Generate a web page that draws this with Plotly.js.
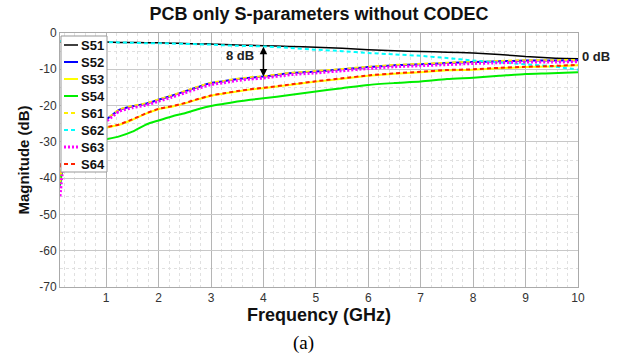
<!DOCTYPE html>
<html><head><meta charset="utf-8">
<script src="https://cdn.plot.ly/plotly-3.0.1.min.js"></script>
<style>html,body{margin:0;padding:0;background:#fff}#c{width:621px;height:358px}</style>
</head><body><div id="c"></div>
<script>
const freq = [0.12, 0.16, 0.2, 0.3, 0.5, 0.75, 1.0, 1.25, 1.5, 1.75, 2.0, 2.25, 2.5, 2.75, 3.0, 3.25, 3.5, 3.75, 4.0, 4.5, 5.0, 5.5, 6.0, 6.5, 7.0, 7.5, 8.0, 8.5, 9.0, 9.5, 10.0];
const S51 = [-2.4, -2.4, -2.4, -2.4, -2.5, -2.5, -2.5, -2.6, -2.6, -2.7, -2.7, -2.8, -2.9, -3.0, -3.0, -3.2, -3.3, -3.4, -3.5, -3.7, -3.9, -4.2, -4.6, -4.9, -5.1, -5.3, -5.5, -5.9, -6.5, -6.9, -7.1];
const S52 = [-42, -37, -33, -29, -26.5, -25, -23.8, -21.2, -20.2, -19.5, -18.4, -17.3, -16.1, -14.9, -13.8, -13.3, -12.7, -12.3, -12.0, -11.1, -10.6, -10.0, -9.4, -8.9, -8.6, -8.3, -8.0, -7.8, -7.6, -7.6, -7.5];
const S53 = [-41, -37, -34, -31, -29, -27.5, -26.1, -25.3, -23.9, -22.3, -21.0, -20.3, -19.4, -18.3, -17.3, -16.7, -16.1, -15.6, -15.2, -14.3, -13.4, -12.6, -11.8, -11.2, -10.8, -10.3, -10.1, -9.7, -9.4, -9.2, -8.9];
const S54 = [-42, -38, -35, -33, -31, -30, -29.3, -28.5, -27.2, -25.3, -24.1, -23.0, -22.1, -21.0, -20.1, -19.5, -18.9, -18.4, -18.0, -17.1, -16.1, -15.2, -14.3, -13.8, -13.4, -12.7, -12.3, -11.8, -11.3, -11.1, -10.8];
const S61 = [-41, -36.5, -33, -29, -26.4, -24.9, -23.7, -21.1, -20.1, -19.4, -18.3, -17.2, -16.0, -14.8, -13.7, -13.2, -12.6, -12.2, -11.9, -11.0, -10.5, -9.9, -9.3, -8.8, -8.5, -8.2, -7.9, -7.7, -7.5, -7.5, -7.4];
const S62 = [-2.2, -2.3, -2.4, -2.4, -2.5, -2.5, -2.5, -2.6, -2.7, -2.8, -2.8, -2.9, -3.0, -3.1, -3.2, -3.4, -3.5, -3.6, -3.7, -4.1, -4.6, -5.0, -5.5, -5.9, -6.3, -6.9, -7.6, -8.1, -8.6, -9.2, -10.1];
const S63 = [-45, -39, -34, -30, -27, -25.5, -24.3, -21.6, -20.6, -19.9, -18.8, -17.7, -16.5, -15.3, -14.2, -13.7, -13.1, -12.7, -12.4, -11.5, -11.0, -10.4, -9.8, -9.3, -9.0, -8.7, -8.4, -8.2, -8.0, -8.0, -7.9];
const S64 = [-37, -35, -32, -30, -28, -27, -26.0, -25.2, -23.8, -22.2, -20.9, -20.2, -19.3, -18.2, -17.2, -16.6, -16.0, -15.5, -15.1, -14.2, -13.3, -12.5, -11.7, -11.1, -10.7, -10.2, -10.0, -9.6, -9.3, -9.1, -8.8];
const xTicks = [1, 2, 3, 4, 5, 6, 7, 8, 9, 10];
const yTicks = [0, -10, -20, -30, -40, -50, -60, -70];
const names = ['S51', 'S52', 'S53', 'S54', 'S61', 'S62', 'S63', 'S64'];

const styles = [
  {color: '#000000', dash: 'solid', width: 1.5},
  {color: '#0000ff', dash: 'solid', width: 2},
  {color: '#ffff00', dash: 'solid', width: 2},
  {color: '#00ee00', dash: 'solid', width: 2},
  {color: '#ffee00', dash: '4px,3px', width: 2},
  {color: '#00ffff', dash: '4px,3px', width: 2},
  {color: '#ff00ff', dash: '2px,2px', width: 3},
  {color: '#ff2200', dash: '4px,3px', width: 2}
];
const values = [S51, S52, S53, S54, S61, S62, S63, S64];
const traces = values.map((v, i) => ({
  x: freq, y: v, name: names[i], type: 'scatter', mode: 'lines', showlegend: false,
  line: {color: styles[i].color, dash: styles[i].dash, width: styles[i].width, shape: 'spline', smoothing: 0.6}
}));

// legend drawn in paper coordinates (plot area: 60..578 px wide, 33..287 px tall)
const PL = 60, PW = 518, PB = 287, PH = 254;
const px = p => (p - PL) / PW;
const py = p => (PB - p) / PH;
const shapes = [{type: 'rect', xref: 'paper', yref: 'paper', x0: px(61), x1: px(107), y0: py(172), y1: py(36),
  fillcolor: '#fff', line: {color: '#999', width: 1}, layer: 'above'}];
const legendAnn = [];
names.forEach((n, i) => {
  const yy = 45 + 17 * i;
  shapes.push({type: 'line', xref: 'paper', yref: 'paper', x0: px(64), x1: px(78), y0: py(yy), y1: py(yy),
    line: {color: styles[i].color, dash: styles[i].dash, width: styles[i].width}, layer: 'above'});
  legendAnn.push({x: px(79), y: py(yy), xref: 'paper', yref: 'paper', xanchor: 'left', yanchor: 'middle',
    text: n, showarrow: false, font: {size: 13, weight: 'bold', color: '#111'}});
});

const layout = {
  width: 621, height: 358,
  margin: {l: 60, r: 43, t: 33, b: 71},
  paper_bgcolor: '#fff', plot_bgcolor: '#fff',
  font: {family: 'Liberation Sans, Arial, sans-serif', color: '#222'},
  title: {text: 'PCB only S-parameters without CODEC', x: 0.5, xref: 'paper', y: 0.963, yanchor: 'middle',
          font: {size: 18, weight: 'bold', color: '#111'}},
  xaxis: {range: [0.12, 10], tickvals: xTicks, ticktext: xTicks.map(String),
          showgrid: true, gridcolor: '#b5b5b5', gridwidth: 1, zeroline: false,
          showline: true, linecolor: '#aaa', mirror: true,
          ticks: '', tickfont: {size: 12, color: '#333'},
          minor: {dtick: 0.2, tick0: 0, showgrid: true, gridcolor: '#e0e0e0', griddash: 'dot'},
          title: {text: 'Frequency (GHz)', font: {size: 18, weight: 'bold', color: '#111'}, standoff: 0}},
  yaxis: {range: [-70, 0], tickvals: yTicks, ticktext: yTicks.map(String),
          showgrid: true, gridcolor: '#c8c8c8', gridwidth: 1, zeroline: false,
          showline: true, linecolor: '#aaa', mirror: true,
          ticks: '', tickfont: {size: 12, color: '#333'},
          minor: {dtick: 5, tick0: 0, showgrid: true, gridcolor: '#e0e0e0', griddash: 'dot'},
          title: {text: 'Magnitude (dB)', font: {size: 15, weight: 'bold', color: '#111'}, standoff: 6}},
  showlegend: false,
  shapes: shapes,
  annotations: [
    {x: 4, y: -12, ax: 4, ay: -3.4, xref: 'x', yref: 'y', axref: 'x', ayref: 'y',
     showarrow: true, arrowhead: 2, startarrowhead: 2, arrowside: 'end+start', arrowsize: 1, arrowwidth: 1.5,
     arrowcolor: '#000', text: ''},
    {x: 3.55, y: -6.3, xref: 'x', yref: 'y', text: '8 dB', showarrow: false,
     font: {size: 13, weight: 'bold', color: '#222'}},
    {x: 1, y: -6.6, xref: 'paper', yref: 'y', xanchor: 'left', xshift: 2, text: '0 dB', showarrow: false,
     font: {size: 13, weight: 'bold', color: '#222'}},
    {x: px(303), y: -0.035, xref: 'paper', yref: 'paper', yanchor: 'top', yshift: -34, text: '(a)', showarrow: false,
     font: {size: 19, family: 'Liberation Serif, Times New Roman, serif', color: '#000'}}
  ].concat(legendAnn)
};
Plotly.newPlot('c', traces, layout, {displayModeBar: false, staticPlot: true});
</script></body></html>
